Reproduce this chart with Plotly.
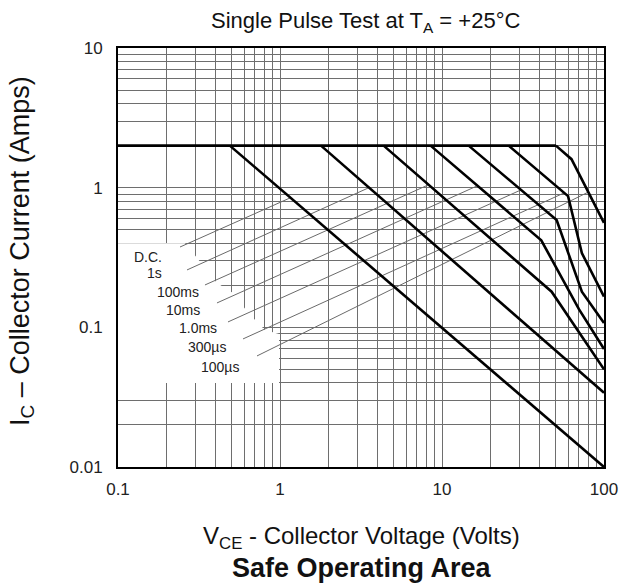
import math
import plotly.graph_objects as go

# ---------------- data ----------------
limit_v = [0.1, 50.5]
limit_i = [2.0, 2.0]

curve_names = ["D.C.", "1s", "100ms", "10ms", "1.0ms", "300µs", "100µs"]
curve_v = [
    [0.49, 100],
    [1.79, 100],
    [4.36, 47.5, 100],
    [8.5, 41, 70, 100],
    [14.6, 51, 73, 100],
    [25.8, 60, 73, 100],
    [50.5, 63, 100],
]
curve_i = [
    [2.0, 0.01],
    [2.0, 0.034],
    [2.0, 0.18, 0.05],
    [2.0, 0.42, 0.135, 0.07],
    [2.0, 0.587, 0.18, 0.1075],
    [2.0, 0.87, 0.34, 0.166],
    [2.0, 1.6, 0.56],
]

# label anchor positions (V, I) and leader lines (start -> end)
label_v = [0.153, 0.169, 0.234, 0.252, 0.312, 0.354, 0.427]
label_i = [0.319, 0.245, 0.179, 0.133, 0.099, 0.0724, 0.052]
leader_v0 = [0.2415, 0.2667, 0.3443, 0.4083, 0.4775, 0.5912, 0.7211]
leader_i0 = [0.376, 0.2576, 0.2011, 0.1495, 0.1093, 0.0826, 0.0624]
leader_v1 = [1.153, 3.54, 8.2, 16.35, 30.7, 56.6, 80.0]
leader_i1 = [0.844, 1.0, 1.045, 1.025, 0.963, 0.916, 0.93]

# white masking area behind the labels
mask_v = [0.1, 0.2594, 0.3077, 0.4083, 0.513, 0.6166, 0.721, 0.808, 0.986, 0.986, 0.1, 0.1]
mask_i = [0.4, 0.4, 0.314, 0.208, 0.176, 0.133, 0.109, 0.0958, 0.0897, 0.04, 0.04, 0.4]

x_ticks = [0.1, 1, 10, 100]
x_ticklabels = ["0.1", "1", "10", "100"]
y_ticks = [0.01, 0.1, 1, 10]
y_ticklabels = ["0.01", "0.1", "1", "10"]

FONT = "Arial, Liberation Sans, sans-serif"
GRID = "#6e6e6e"

minor_x = [m * d for d in (0.1, 1, 10) for m in range(2, 10)]
minor_y = [m * d for d in (0.01, 0.1, 1) for m in range(2, 10)]

fig = go.Figure()

# mask
fig.add_trace(go.Scatter(x=mask_v, y=mask_i, mode="lines", fill="toself",
                         fillcolor="white", line=dict(width=0, color="white"),
                         hoverinfo="skip", showlegend=False))

# leader lines
for k in range(len(curve_names)):
    fig.add_trace(go.Scatter(x=[leader_v0[k], leader_v1[k]], y=[leader_i0[k], leader_i1[k]],
                             mode="lines", line=dict(color="#6a6a6a", width=1),
                             hoverinfo="skip", showlegend=False))

# current limit
fig.add_trace(go.Scatter(x=limit_v, y=limit_i, mode="lines",
                         line=dict(color="black", width=2.6), showlegend=False))

for name, v, i in zip(curve_names, curve_v, curve_i):
    fig.add_trace(go.Scatter(x=v, y=i, mode="lines", name=name,
                             line=dict(color="black", width=2.6), showlegend=False))

annotations = []
for name, v, i in zip(curve_names, label_v, label_i):
    annotations.append(dict(x=math.log10(v), y=math.log10(i), xref="x", yref="y",
                            text=name, showarrow=False, xanchor="center", yanchor="middle",
                            font=dict(family=FONT, size=14, color="#222")))

annotations += [
    dict(x=0.51, y=1.062, xref="paper", yref="paper", showarrow=False,
         text="Single Pulse Test at T<sub>A</sub> = +25°C",
         font=dict(family=FONT, size=22, color="#111"), xanchor="center", yanchor="middle"),
    dict(x=0.502, y=-0.168, xref="paper", yref="paper", showarrow=False,
         text="V<sub>CE</sub> - Collector Voltage (Volts)",
         font=dict(family=FONT, size=24, color="#111"), xanchor="center", yanchor="middle"),
    dict(x=0.502, y=-0.240, xref="paper", yref="paper", showarrow=False,
         text="<b>Safe Operating Area</b>",
         font=dict(family=FONT, size=27, color="#111"), xanchor="center", yanchor="middle"),
    dict(x=-0.198, y=0.515, xref="paper", yref="paper", showarrow=False, textangle=-90,
         text="I<sub>C</sub> – Collector Current (Amps)",
         font=dict(family=FONT, size=27, color="#111"), xanchor="center", yanchor="middle"),
]

fig.update_layout(
    width=629, height=584,
    margin=dict(l=118, r=25, t=48, b=117),
    paper_bgcolor="white", plot_bgcolor="white",
    font=dict(family=FONT, size=17, color="#222"),
    annotations=annotations,
    showlegend=False,
)

fig.update_xaxes(type="log", range=[-1, 2], tickmode="array", tickvals=x_ticks,
                 ticktext=x_ticklabels, ticks="", showgrid=True, gridcolor=GRID, gridwidth=1.4,
                 showline=True, linecolor="black", linewidth=2, mirror=True, zeroline=False,
                 tickfont=dict(family=FONT, size=17, color="#222"), ticklabelstandoff=6,
                 minor=dict(tickmode="array", tickvals=minor_x, showgrid=True,
                            gridcolor=GRID, gridwidth=1.4, ticks=""))
fig.update_yaxes(type="log", range=[-2, 1], tickmode="array", tickvals=y_ticks,
                 ticktext=y_ticklabels, ticks="", showgrid=True, gridcolor=GRID, gridwidth=1.4,
                 showline=True, linecolor="black", linewidth=2, mirror=True, zeroline=False,
                 tickfont=dict(family=FONT, size=17, color="#222"), ticklabelstandoff=10,
                 minor=dict(tickmode="array", tickvals=minor_y, showgrid=True,
                            gridcolor=GRID, gridwidth=1.4, ticks=""))

fig.write_html("out.html", config={"displayModeBar": False},
               post_script="document.body.style.margin='0';document.body.style.padding='0';")
